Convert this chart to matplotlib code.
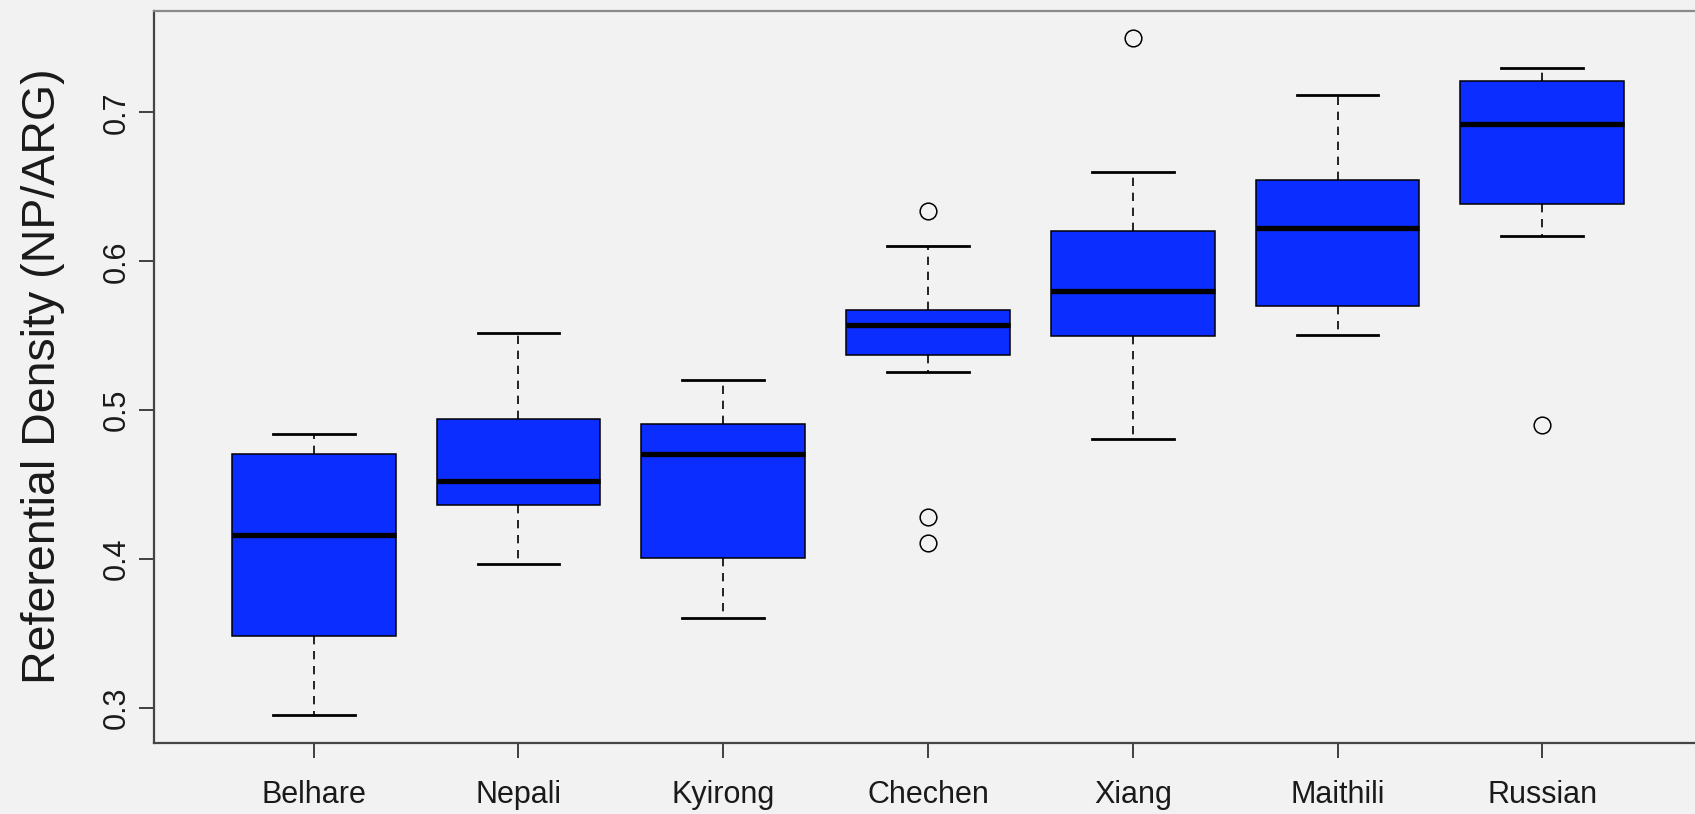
import numpy as np
import matplotlib
matplotlib.use("Agg")
import matplotlib.pyplot as plt

plt.rcParams['font.family'] = ['Liberation Sans', 'DejaVu Sans']

languages = ["Belhare", "Nepali", "Kyirong", "Chechen", "Xiang", "Maithili", "Russian"]
whisker_low = [0.2951, 0.3967, 0.3607, 0.5258, 0.4806, 0.5508, 0.6168]
q1 = [0.3481, 0.4367, 0.4007, 0.5372, 0.5501, 0.5699, 0.6385]
median = [0.4163, 0.4526, 0.4707, 0.5575, 0.5801, 0.6222, 0.6924]
q3 = [0.4707, 0.4942, 0.4909, 0.5674, 0.6202, 0.6546, 0.7213]
whisker_high = [0.4840, 0.5517, 0.5204, 0.6101, 0.6600, 0.7115, 0.7298]
outliers = [[], [], [], [0.6340, 0.4282, 0.4108], [0.7501], [], [0.4902]]

yticks = [0.3, 0.4, 0.5, 0.6, 0.7]
ylabel = "Referential Density (NP/ARG)"

bg = "#f2f2f2"
box_blue = "#0b2dff"

stats = []
for i, name in enumerate(languages):
    stats.append(dict(label=name, whislo=whisker_low[i], q1=q1[i], med=median[i],
                      q3=q3[i], whishi=whisker_high[i], fliers=outliers[i]))

fig = plt.figure(figsize=(16.95, 8.14), dpi=100, facecolor=bg)
ax = fig.add_axes([154 / 1695, 1 - 742.5 / 814, 1548 / 1695, 731.8 / 814])
ax.set_facecolor(bg)

positions = np.arange(1, len(languages) + 1)
ax.bxp(stats, positions=positions, widths=0.8, patch_artist=True,
       boxprops=dict(facecolor=box_blue, edgecolor="black", linewidth=1.1),
       medianprops=dict(color="black", linewidth=3.8, solid_capstyle="butt"),
       whiskerprops=dict(color="black", linewidth=1.2, linestyle=(0, (5, 4))),
       capprops=dict(color="black", linewidth=2.0),
       capwidths=0.4,
       flierprops=dict(marker="o", markersize=12, markerfacecolor="none",
                       markeredgecolor="black", markeredgewidth=1.1))

# R-style axis range: 4% padding around the data and the box slots
all_vals = whisker_low + whisker_high + [v for o in outliers for v in o]
lo, hi = min(all_vals), max(all_vals)
pad = 0.04 * (hi - lo)
ax.set_ylim(lo - pad, hi + pad)
ax.set_xlim(0.5 - 0.28, len(languages) + 0.5 + 0.28)

ax.set_yticks(yticks)
ax.set_yticklabels([f"{t:.1f}" for t in yticks], rotation=90, va="center")
ax.set_xticks(positions)
ax.set_xticklabels(languages)
ax.tick_params(axis="both", labelsize=22, length=11, width=1.2, color="#222222",
               labelcolor="#1a1a1a")
ax.tick_params(axis="y", pad=5)
ax.tick_params(axis="x", pad=16)

for side in ["left", "bottom", "top", "right"]:
    ax.spines[side].set_color("#444444")
    ax.spines[side].set_linewidth(1.6)
ax.spines["top"].set_color("#8a8a8a")

fig.text(43 / 1695, 1 - 376 / 814, ylabel, rotation=90, ha="center", va="center",
         fontsize=33.5, color="#1a1a1a")

fig.savefig("out.png", dpi=100, facecolor=bg)
